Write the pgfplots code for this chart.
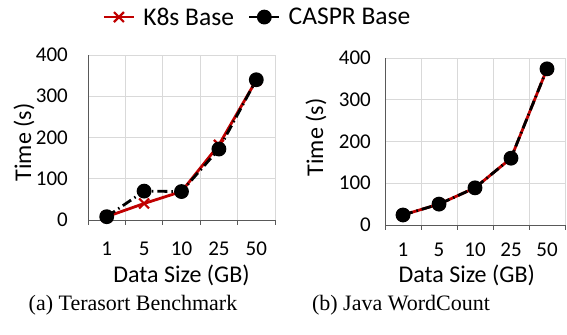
\documentclass[border=0pt]{standalone}
\usepackage{fontspec}
\setmainfont{Carlito}
\newfontfamily\capfont{Liberation Serif}
\usepackage{pgfplots}
\pgfplotsset{compat=1.18}
\definecolor{kred}{HTML}{C00000}
\definecolor{gridc}{HTML}{D9D9D9}
\definecolor{axc}{HTML}{595959}
\pgfplotsset{
  base/.style={
    scale only axis,
    axis lines*=left,
    axis line style={draw=axc, line width=0.9bp},
    xmin=-0.5, xmax=4.5, ymin=0, ymax=400,
    xtick={0,1,2,3,4},
    xticklabels={1,5,10,25,50},
    minor xtick={-0.5,0.5,1.5,2.5,3.5,4.5},
    ytick={0,100,200,300,400},
    xminorgrids, ymajorgrids,
    grid style={draw=gridc, line width=0.8bp},
    minor grid style={draw=gridc, line width=0.8bp},
    major tick length=0pt,
    minor tick length=5bp,
    tick align=outside,
    minor tick style={draw=axc, line width=0.8bp},
    /pgf/number format/assume math mode=true,
    tick label style={font=\fontsize{21bp}{24bp}\selectfont, inner sep=0pt},
    xticklabel style={anchor=center},
    label style={font=\fontsize{24bp}{28bp}\selectfont},
    ylabel={Time (s)},
    xlabel={Data Size (GB)},
    clip=false,
    legend image code/.code={\draw[mark repeat=2,mark phase=2,#1] plot coordinates {(0bp,0bp) (15bp,0bp) (30bp,0bp)};},
  },
  kstyle/.style={draw=kred, line width=2.8bp, mark=x, mark size=7bp, mark options={solid, draw=kred, line width=2.2bp}},
  cstyle/.style={draw=black, line width=2.8bp, dash pattern=on 10bp off 4bp on 1.5bp off 4bp, mark=*, mark size=6bp, mark options={solid, fill=black, draw=black}},
}
\begin{document}
\begin{tikzpicture}
\path[use as bounding box] (0,0) rectangle (567bp,335bp);
\begin{axis}[base,
  at={(88bp,115bp)}, anchor=south west,
  width=187bp, height=165bp,
  xticklabel style={yshift=-29bp},
  yticklabel style={anchor=east, xshift=-20bp},
  ylabel style={at={(axis description cs:-0.342,0.47)}, anchor=center},
  xlabel style={at={(axis description cs:0.5,-0.335)}, anchor=center},
  legend columns=2,
  legend style={at={(axis description cs:0.906,1.23)}, anchor=center, draw=none, fill=none,
    font=\fontsize{25.5bp}{28bp}\selectfont,
    /tikz/every odd column/.append style={column sep=6bp},
    /tikz/every even column/.append style={column sep=12bp}},
]
\addplot[kstyle] coordinates {(0,8) (1,40) (2,69) (3,182) (4,339)};
\addlegendentry{K8s Base}
\addplot[cstyle] coordinates {(0,8) (1,70) (2,69) (3,172) (4,340)};
\addlegendentry{CASPR Base}
\end{axis}
\begin{axis}[base,
  at={(385bp,110bp)}, anchor=south west,
  width=180bp, height=167bp,
  xticklabel style={yshift=-25bp},
  yticklabel style={anchor=east, xshift=-14bp},
  ylabel style={at={(axis description cs:-0.383,0.524)}, anchor=center},
  xlabel style={at={(axis description cs:0.454,-0.30)}, anchor=center},
]
\addplot[kstyle] coordinates {(0,24) (1,50) (2,89) (3,160) (4,374)};
\addplot[cstyle] coordinates {(0,24) (1,50) (2,89) (3,160) (4,374)};
\end{axis}
\node[font=\capfont\fontsize{22bp}{26bp}\selectfont] at (133bp,30bp) {(a) Terasort Benchmark};
\node[font=\capfont\fontsize{22bp}{26bp}\selectfont] at (401bp,30bp) {(b) Java WordCount};
\end{tikzpicture}
\end{document}
